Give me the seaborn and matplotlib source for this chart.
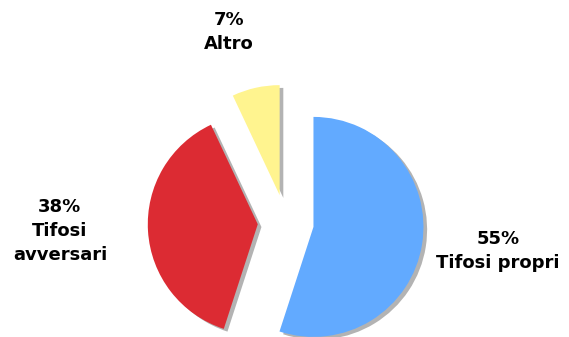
import numpy as np
import matplotlib
matplotlib.use("Agg")
import matplotlib.pyplot as plt
import seaborn as sns

# Share of spectators by group
categories = ["Tifosi propri", "Tifosi avversari", "Altro"]
shares = [55, 38, 7]
colors = ["#62AAFF", "#DC2B33", "#FFF48F"]

# Per-slice label placement: distance (in radii from the slice's own centre)
# and a small angular nudge in degrees
label_dist = [1.69, 1.80, 1.55]
label_turn = [1.6, -1.6, 4.6]

sns.set_theme(style="white")
plt.rcParams["font.family"] = ["DejaVu Sans"]

fig = plt.figure(figsize=(5.69, 3.37), dpi=100)
ax = fig.add_axes([0, 0, 1, 1])

wedges, _ = ax.pie(
    shares,
    colors=colors,
    startangle=90,
    counterclock=False,
    explode=[0.255, 0.255, 0.255],
    radius=1.0,
    wedgeprops=dict(linewidth=0, edgecolor="none"),
    shadow=dict(ox=0.024, oy=-0.018, facecolor="#b3b3b3",
                edgecolor="none", alpha=1.0),
)

for w, cat, val, d, turn in zip(wedges, categories, shares, label_dist, label_turn):
    mid = np.deg2rad((w.theta1 + w.theta2) / 2 + turn)
    cx, cy = w.center
    x = cx + d * w.r * np.cos(mid)
    y = cy + d * w.r * np.sin(mid)
    name = cat.replace(" ", "\n") if cat == "Tifosi avversari" else cat
    ax.text(x, y, f"{val}%\n{name}", ha="center", va="center",
            fontsize=13, fontweight="bold", color="black",
            linespacing=1.45)

ax.set_xlim(-2.598, 2.575)
ax.set_ylim(-1.041, 2.023)
ax.set_aspect("equal")
ax.axis("off")

fig.savefig("out.png", dpi=100, facecolor="white")
